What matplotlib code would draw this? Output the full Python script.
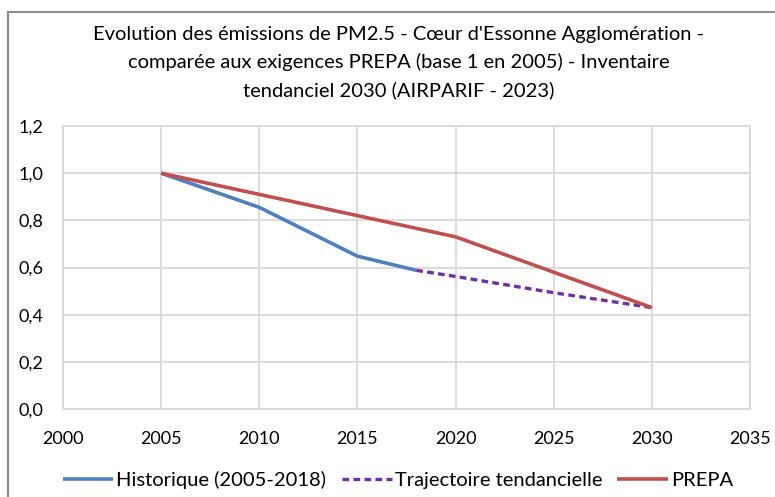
import matplotlib.pyplot as plt
from matplotlib.patches import Rectangle
from matplotlib.ticker import FuncFormatter

# --- data ---
hist_years = [2005, 2010, 2015, 2018]
hist_values = [1.0, 0.855, 0.648, 0.588]

traj_years = [2018, 2020, 2025, 2030]
traj_values = [0.588, 0.562, 0.493, 0.43]

prepa_years = [2005, 2010, 2015, 2020, 2025, 2030]
prepa_values = [1.0, 0.91, 0.82, 0.73, 0.58, 0.43]

title = ("Evolution des émissions de PM2.5 - Cœur d'Essonne Agglomération -\n"
         "comparée aux exigences PREPA (base 1 en 2005) - Inventaire\n"
         "tendanciel 2030 (AIRPARIF - 2023)")

plt.rcParams['font.family'] = ['Lato', 'DejaVu Sans']

fig = plt.figure(figsize=(7.75, 4.97), dpi=100)

# gray frame of the chart object
fig.patches.append(Rectangle((8 / 775, -0.2), 1.2, 1.2 - 12 / 497,
                             transform=fig.transFigure, fill=False,
                             edgecolor='#8c8c8c', linewidth=1.5))

ax = fig.add_axes([63 / 775, 1 - 409 / 497, (750 - 63) / 775, (409 - 126) / 497])

ax.plot(hist_years, hist_values, color='#4f81bd', linewidth=2.6,
        label='Historique (2005-2018)', solid_capstyle='butt')
ax.plot(traj_years, traj_values, color='#7030a0', linewidth=2.4,
        linestyle=(0, (2.0, 1.3)), label='Trajectoire tendancielle')
ax.plot(prepa_years, prepa_values, color='#c0504d', linewidth=2.6,
        label='PREPA', solid_capstyle='butt')

ax.set_xlim(2000, 2035)
ax.set_ylim(0, 1.2)
ax.set_xticks(range(2000, 2036, 5))
ax.set_yticks([0, 0.2, 0.4, 0.6, 0.8, 1.0, 1.2])
ax.yaxis.set_major_formatter(FuncFormatter(lambda v, p: f"{v:.1f}".replace('.', ',')))
ax.grid(True, color='#d9d9d9', linewidth=1.3)
ax.set_axisbelow(True)
for s in ax.spines.values():
    s.set_color('#d9d9d9')
    s.set_linewidth(1.3)
ax.tick_params(length=0, labelsize=13, colors='black')
ax.tick_params(axis='y', pad=14)
ax.tick_params(axis='x', pad=16)

fig.text(399 / 775, 1 - 62.5 / 497, title, ha='center', va='center',
         fontsize=14.5, linespacing=1.7)

fig.legend(loc='center', bbox_to_anchor=(398 / 775, 1 - 480 / 497), ncol=3,
           frameon=False, fontsize=14.5, handlelength=2.5, handletextpad=0.15,
           columnspacing=0.75)

fig.savefig('out.png', dpi=100)
